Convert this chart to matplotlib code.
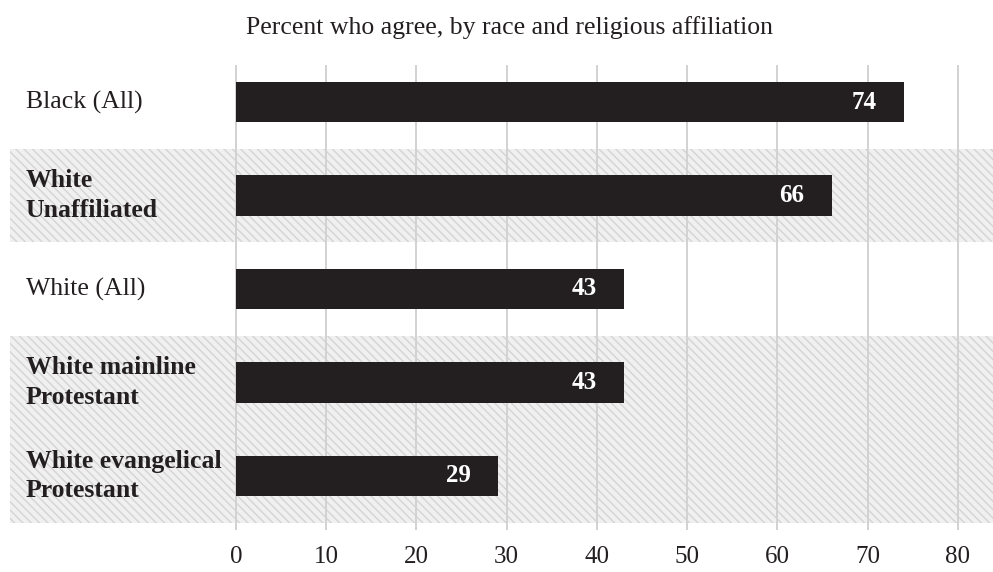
import matplotlib
matplotlib.use("Agg")
import matplotlib.pyplot as plt

# survey results, top to bottom
groups = ["Black (All)", "White\nUnaffiliated", "White (All)",
          "White mainline\nProtestant", "White evangelical\nProtestant"]
percent = [74, 66, 43, 43, 29]
bold_rows = [False, True, False, True, True]
shaded_rows = [1, 3, 4]
ticks = [0, 10, 20, 30, 40, 50, 60, 70, 80]

plt.rcParams['font.family'] = ['Liberation Serif', 'DejaVu Serif']
plt.rcParams['hatch.linewidth'] = 1.0
plt.rcParams['hatch.color'] = '#d4d4d4'

ink = '#231f20'

fig = plt.figure(figsize=(9.93, 5.72), dpi=100)
ax = fig.add_axes([10 / 993, 42 / 572, 983 / 993, 465 / 572])

px = 80 / (958 - 236)
ax.set_xlim(-226 * px, (993 - 236) * px)
ax.set_ylim(4.578, -0.396)

# hatched bands behind alternating groups
for r in shaded_rows:
    ax.axhspan(r - 0.5, r + 0.5, facecolor='#f0f0f0', edgecolor='#d4d4d4',
               hatch='\\\\\\\\', linewidth=0, zorder=0)

for t in ticks:
    ax.axvline(t, color='#d2d2d2', lw=1.4, zorder=1)

y = list(range(len(groups)))
ax.barh(y, percent, height=0.43, color=ink, zorder=2)

for i, (g, v) in enumerate(zip(groups, percent)):
    ax.text(v - 3.0, i, str(v), color='white', fontweight='bold',
            fontsize=18, ha='right', va='center', zorder=3)
    ax.text(-23.3, i, g, color=ink, fontsize=18.5, ha='left', va='center',
            fontweight='bold' if bold_rows[i] else 'normal',
            linespacing=1.38, zorder=3)

for t in ticks:
    ax.text(t, 4.578 + 27 / 93.5, str(t), color=ink, fontsize=18,
            ha='center', va='center', clip_on=False)

fig.text(509 / 993, 1 - 28 / 572, "Percent who agree, by race and religious affiliation",
         color=ink, fontsize=18.5, ha='center', va='center')

ax.axis('off')
fig.savefig("out.png", dpi=100, facecolor='white')
